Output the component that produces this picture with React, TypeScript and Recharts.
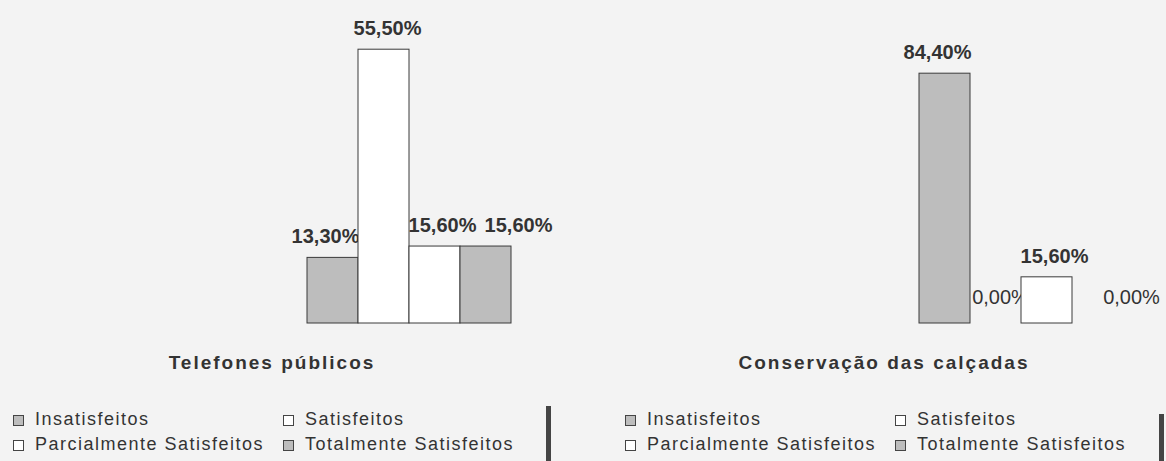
import React from "react";
import { BarChart, Bar, XAxis, YAxis } from "recharts";

const categories = ["Telefones públicos", "Conservação das calçadas"];
const seriesNames = [
  "Insatisfeitos",
  "Satisfeitos",
  "Parcialmente Satisfeitos",
  "Totalmente Satisfeitos",
];
const telefonesValues = [13.3, 55.5, 15.6, 15.6];
const calcadasValues = [84.4, 0.0, 15.6, 0.0];
const yMaxima = [60, 100];

const seriesFill = ["#bdbdbd", "#ffffff", "#ffffff", "#bdbdbd"];
const labelDx = [-7, 4, 8, 33];
const FONT = "'Liberation Sans', Arial, sans-serif";
const INK = "#333333";

const keys = ["s0", "s1", "s2", "s3"];

function buildRow(values: number[]) {
  const row: Record<string, number | string> = { name: "" };
  values.forEach((v, i) => (row[keys[i]] = v));
  return [row];
}

const fmt = (v: number) => v.toFixed(2).replace(".", ",") + "%";

function makeShape(i: number) {
  return (props: any) => {
    const { x, y, width, height, value } = props;
    const raw = Array.isArray(value) ? value[1] - value[0] : value;
    const v = Number(raw);
    const zero = !v;
    const top = Number(y);
    return (
      <g>
        {!zero && height > 0 && (
          <rect
            x={x}
            y={top}
            width={width}
            height={height}
            fill={seriesFill[i]}
            stroke="#3a3a3a"
            strokeWidth={1}
          />
        )}
        <text
          x={Number(x) + Number(width) / 2 + labelDx[i] + (zero ? 1 : 0)}
          y={top - (zero ? 19 : 14)}
          textAnchor="middle"
          style={{
            fontFamily: FONT,
            fontSize: 20,
            fontWeight: zero ? 400 : 700,
          }}
          fill={INK}
        >
          {fmt(v || 0)}
        </text>
      </g>
    );
  };
}

function Panel({ left, values, yMax, title, barTop, vbarX }: { left: number; values: number[]; yMax: number; title: string; barTop: number; vbarX: number }) {
  const data = buildRow(values);
  const legendItems = [
    { i: 0, col: 0, row: 0 },
    { i: 1, col: 1, row: 0 },
    { i: 2, col: 0, row: 1 },
    { i: 3, col: 1, row: 1 },
  ];
  return (
    <div style={{ position: "absolute", left, top: 0, width: 554, height: 461 }}>
      <BarChart
        width={554}
        height={461}
        data={data}
        margin={{ top: 27, right: 43, bottom: 138, left: 307 }}
        barCategoryGap={0}
        barGap={0}
      >
        <XAxis dataKey="name" hide />
        <YAxis hide domain={[0, yMax]} />
        {keys.map((k, i) => (
          <Bar
            key={k}
            dataKey={k}
            name={seriesNames[i]}
            fill={seriesFill[i]}
            stroke="#3a3a3a"
            shape={makeShape(i)}
            isAnimationActive={false}
          />
        ))}
      </BarChart>
      <div
        style={{
          position: "absolute",
          left: 72,
          width: 400,
          top: 353,
          textAlign: "center",
          fontFamily: FONT,
          fontWeight: 700,
          fontSize: 19,
          lineHeight: "19px",
          letterSpacing: 2,
          color: INK,
          whiteSpace: "nowrap",
        }}
      >
        {title}
      </div>
      {legendItems.map(({ i, col, row }) => (
        <React.Fragment key={i}>
          <div
            style={{
              position: "absolute",
              left: col === 0 ? 13 : 283,
              top: 415 + row * 25,
              width: 9,
              height: 9,
              border: "1px solid #444",
              background: seriesFill[i],
            }}
          />
          <div
            style={{
              position: "absolute",
              left: col === 0 ? 35 : 305,
              top: 410 + row * 25,
              fontFamily: FONT,
              fontSize: 18,
              lineHeight: "18px",
              letterSpacing: 1.5,
              color: INK,
              whiteSpace: "nowrap",
            }}
          >
            {seriesNames[i]}
          </div>
        </React.Fragment>
      ))}
      <div
        style={{
          position: "absolute",
          left: vbarX,
          top: barTop,
          width: 5,
          height: 461 - barTop,
          background: "#444",
        }}
      />
    </div>
  );
}

export default function App() {
  return (
    <div
      style={{
        position: "absolute",
        left: 0,
        top: 0,
        width: 1166,
        height: 461,
        background: "#f3f3f3",
        overflow: "hidden",
      }}
    >
      <Panel left={0} values={telefonesValues} yMax={yMaxima[0]} title={categories[0]} barTop={406} vbarX={546} />
      <Panel left={612} values={calcadasValues} yMax={yMaxima[1]} title={categories[1]} barTop={414} vbarX={547} />
    </div>
  );
}
